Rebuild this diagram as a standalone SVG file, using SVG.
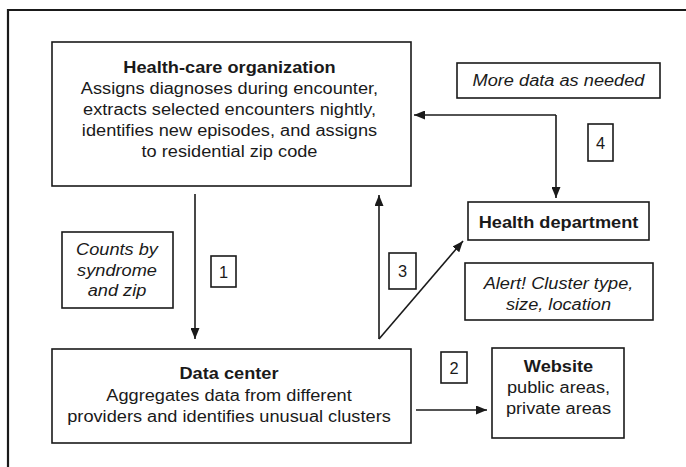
<svg xmlns="http://www.w3.org/2000/svg" width="686" height="467" viewBox="0 0 686 467">
<defs>
<marker id="ah" viewBox="0 0 11 9" refX="11" refY="4.5" markerWidth="11" markerHeight="9" markerUnits="userSpaceOnUse" orient="auto">
<path d="M0,0 L11,4.5 L0,9 Z" fill="#1a1a1a"/>
</marker>
</defs>
<style>
text{font-family:"Liberation Sans",Arial,sans-serif;font-size:16.4px;fill:#1a1a1a;text-anchor:middle}
.b{font-weight:bold}
.i{font-style:italic}
.box{fill:#fff;stroke:#1a1a1a;stroke-width:1.6}
.c{fill:none;stroke:#1a1a1a;stroke-width:1.6}
</style>
<rect width="686" height="467" fill="#fff"/>
<path d="M8,467 V10 H686" fill="none" stroke="#1a1a1a" stroke-width="2.2"/>
<g id="hco">
<rect class="box" x="52" y="42" width="359" height="144"/>
<g transform="translate(229.5 0) scale(1.11 1)">
<text class="b" x="0" y="73">Health-care organization</text>
<text x="0" y="94.5">Assigns diagnoses during encounter,</text>
<text x="0" y="115.5">extracts selected encounters nightly,</text>
<text x="0" y="136.5">identifies new episodes, and assigns</text>
<text x="0" y="157.5">to residential zip code</text>
</g>
</g>
<g id="more">
<rect class="box" x="457" y="63" width="203" height="35"/>
<g transform="translate(558.5 0) scale(1.11 1)"><text class="i" x="0" y="86.5">More data as needed</text></g>
</g>
<g id="hd">
<rect class="box" x="468" y="202" width="181" height="38"/>
<g transform="translate(558.5 0) scale(1.11 1)"><text class="b" x="0" y="228">Health department</text></g>
</g>
<g id="alert">
<rect class="box" x="465" y="263" width="188" height="57"/>
<g transform="translate(558.5 0) scale(1.11 1)">
<text class="i" x="0" y="289.5">Alert! Cluster type,</text>
<text class="i" x="0" y="310">size, location</text>
</g>
</g>
<g id="counts">
<rect class="box" x="62" y="232" width="111" height="76"/>
<g transform="translate(117 0) scale(1.11 1)">
<text class="i" x="0" y="255.5">Counts by</text>
<text class="i" x="0" y="276">syndrome</text>
<text class="i" x="0" y="296.5">and zip</text>
</g>
</g>
<g id="dc">
<rect class="box" x="52" y="349" width="359" height="94"/>
<g transform="translate(229 0) scale(1.11 1)">
<text class="b" x="0" y="379.5">Data center</text>
<text x="0" y="400.7">Aggregates data from different</text>
<text x="0" y="421.7">providers and identifies unusual clusters</text>
</g>
</g>
<g id="web">
<rect class="box" x="492" y="348" width="132" height="90"/>
<g transform="translate(558.5 0) scale(1.11 1)">
<text class="b" x="0" y="372">Website</text>
<text x="0" y="393">public areas,</text>
<text x="0" y="414">private areas</text>
</g>
</g>
<g id="n1"><rect class="box" x="211" y="256" width="25" height="31"/><text x="223.5" y="277.5">1</text></g>
<g id="n2"><rect class="box" x="441" y="352" width="26" height="31"/><text x="454" y="373.5">2</text></g>
<g id="n3"><rect class="box" x="389" y="253" width="27" height="36"/><text x="402.5" y="277">3</text></g>
<g id="n4"><rect class="box" x="588" y="124" width="25" height="37"/><text x="600.5" y="148.5">4</text></g>
<g id="connectors">
<line class="c" x1="195" y1="194" x2="195" y2="339" marker-end="url(#ah)"/>
<line class="c" x1="416" y1="410" x2="487" y2="410" marker-end="url(#ah)"/>
<line class="c" x1="379" y1="339" x2="379" y2="195" marker-end="url(#ah)"/>
<line class="c" x1="379" y1="339" x2="463" y2="241" marker-end="url(#ah)"/>
<polyline class="c" points="556,115 414,115" marker-end="url(#ah)"/>
<polyline class="c" points="556,115 556,198" marker-end="url(#ah)"/>
</g>
</svg>
